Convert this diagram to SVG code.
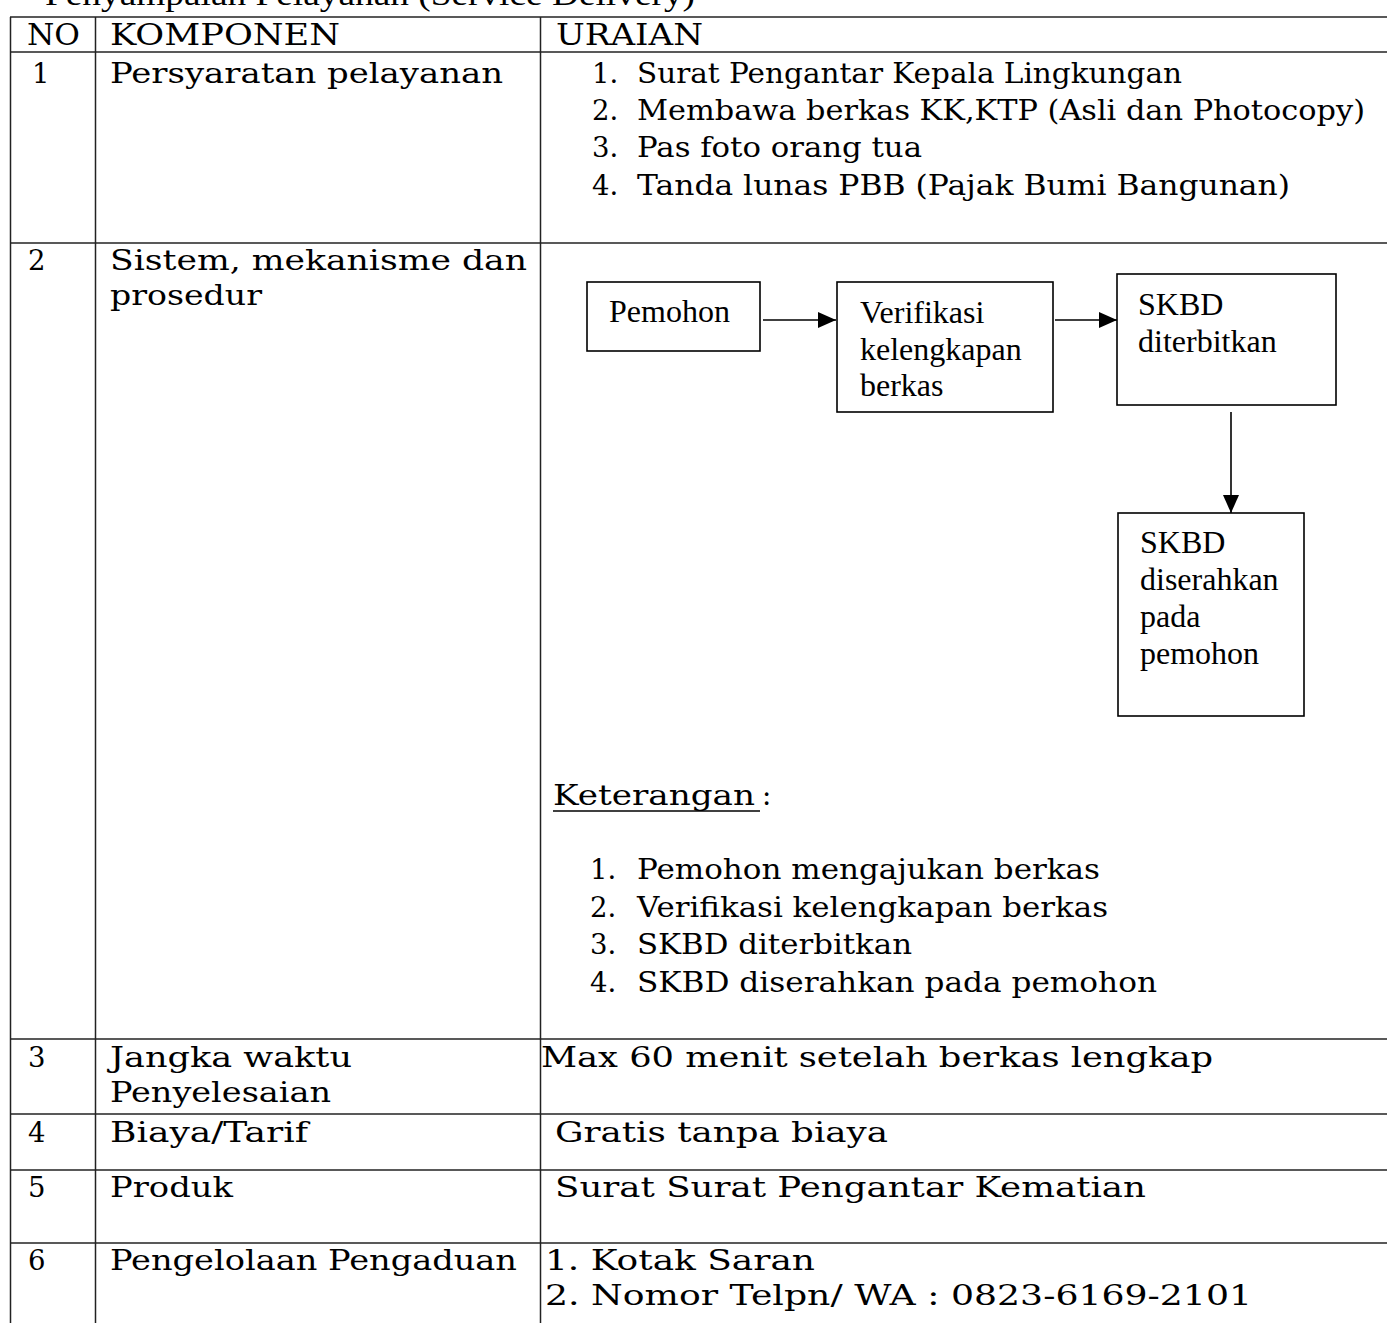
<svg xmlns="http://www.w3.org/2000/svg" width="1387" height="1323" viewBox="0 0 1387 1323">
<style>
.grid{stroke:#222;stroke-width:1.5;fill:none}
.t{font-family:"DejaVu Serif","Liberation Serif",serif;font-size:27.5px;fill:#000}
.h{font-family:"DejaVu Serif","Liberation Serif",serif;font-size:29px;fill:#000}
.f{font-family:"Liberation Serif","Times New Roman",serif;font-size:32px;fill:#000}
.box{fill:#fff;stroke:#000;stroke-width:1.6}
.con{stroke:#000;stroke-width:1.6;fill:none}
</style>
<defs>
<marker id="arr" markerUnits="userSpaceOnUse" markerWidth="20" markerHeight="16" refX="18" refY="8" orient="auto">
<path d="M0,0 L18,8 L0,16 z" fill="#000"/>
</marker>
</defs>
<rect width="1387" height="1323" fill="#fff"/>
<text class="f" x="45" y="5" textLength="650" lengthAdjust="spacingAndGlyphs">Penyampaian Pelayanan (Service Delivery)</text>
<g id="table" class="grid">
<line x1="10" y1="17" x2="1387" y2="17"/>
<line x1="10" y1="52" x2="1387" y2="52"/>
<line x1="10" y1="243" x2="1387" y2="243"/>
<line x1="10" y1="1039" x2="1387" y2="1039"/>
<line x1="10" y1="1114" x2="1387" y2="1114"/>
<line x1="10" y1="1170" x2="1387" y2="1170"/>
<line x1="10" y1="1243" x2="1387" y2="1243"/>
<line x1="10.5" y1="17" x2="10.5" y2="1323"/>
<line x1="95.5" y1="17" x2="95.5" y2="1323"/>
<line x1="540.5" y1="17" x2="540.5" y2="1323"/>
</g>
<g id="header">
<text class="h" x="27" y="45" textLength="53" lengthAdjust="spacingAndGlyphs">NO</text>
<text class="h" x="110" y="45" textLength="230" lengthAdjust="spacingAndGlyphs">KOMPONEN</text>
<text class="h" x="556" y="45" textLength="147" lengthAdjust="spacingAndGlyphs">URAIAN</text>
</g>
<g id="row1">
<text class="t" x="32" y="83">1</text>
<text class="t" x="110" y="83" textLength="393" lengthAdjust="spacingAndGlyphs">Persyaratan pelayanan</text>
<text class="t" x="592" y="83">1.</text>
<text class="t" x="637" y="83" textLength="545" lengthAdjust="spacingAndGlyphs">Surat Pengantar Kepala Lingkungan</text>
<text class="t" x="592" y="120">2.</text>
<text class="t" x="637" y="120" textLength="728" lengthAdjust="spacingAndGlyphs">Membawa berkas KK,KTP (Asli dan Photocopy)</text>
<text class="t" x="592" y="157">3.</text>
<text class="t" x="637" y="157" textLength="285" lengthAdjust="spacingAndGlyphs">Pas foto orang tua</text>
<text class="t" x="592" y="195">4.</text>
<text class="t" x="637" y="195" textLength="653" lengthAdjust="spacingAndGlyphs">Tanda lunas PBB (Pajak Bumi Bangunan)</text>
</g>
<g id="row2">
<text class="t" x="28" y="270">2</text>
<text class="t" x="110" y="270" textLength="417" lengthAdjust="spacingAndGlyphs">Sistem, mekanisme dan</text>
<text class="t" x="110" y="305" textLength="152" lengthAdjust="spacingAndGlyphs">prosedur</text>
</g>
<g id="connectors">
<line class="con" x1="763" y1="320" x2="836" y2="320" marker-end="url(#arr)"/>
<line class="con" x1="1055" y1="320" x2="1117" y2="320" marker-end="url(#arr)"/>
<line class="con" x1="1231" y1="412" x2="1231" y2="513" marker-end="url(#arr)"/>
</g>
<g id="node-pemohon">
<rect class="box" x="587" y="282" width="173" height="69"/>
<text class="f" x="609" y="322">Pemohon</text>
</g>
<g id="node-verifikasi">
<rect class="box" x="837" y="282" width="216" height="130"/>
<text class="f" x="860" y="323">Verifikasi</text>
<text class="f" x="860" y="360">kelengkapan</text>
<text class="f" x="860" y="396">berkas</text>
</g>
<g id="node-diterbitkan">
<rect class="box" x="1117" y="274" width="219" height="131"/>
<text class="f" x="1138" y="315">SKBD</text>
<text class="f" x="1138" y="352">diterbitkan</text>
</g>
<g id="node-diserahkan">
<rect class="box" x="1118" y="513" width="186" height="203"/>
<text class="f" x="1140" y="553">SKBD</text>
<text class="f" x="1140" y="590">diserahkan</text>
<text class="f" x="1140" y="627">pada</text>
<text class="f" x="1140" y="664">pemohon</text>
</g>
<g id="keterangan">
<text class="t" x="553" y="805" textLength="202" lengthAdjust="spacingAndGlyphs">Keterangan</text>
<text class="t" x="762" y="805">:</text>
<line x1="553" y1="811" x2="760" y2="811" stroke="#000" stroke-width="1.5"/>
<text class="t" x="590" y="879">1.</text>
<text class="t" x="637" y="879" textLength="463" lengthAdjust="spacingAndGlyphs">Pemohon mengajukan berkas</text>
<text class="t" x="590" y="917">2.</text>
<text class="t" x="637" y="917" textLength="471" lengthAdjust="spacingAndGlyphs">Verifikasi kelengkapan berkas</text>
<text class="t" x="590" y="954">3.</text>
<text class="t" x="637" y="954" textLength="275" lengthAdjust="spacingAndGlyphs">SKBD diterbitkan</text>
<text class="t" x="590" y="992">4.</text>
<text class="t" x="637" y="992" textLength="520" lengthAdjust="spacingAndGlyphs">SKBD diserahkan pada pemohon</text>
</g>
<g id="row3">
<text class="t" x="28" y="1067">3</text>
<text class="t" x="110" y="1067" textLength="242" lengthAdjust="spacingAndGlyphs">Jangka waktu</text>
<text class="t" x="110" y="1102" textLength="221" lengthAdjust="spacingAndGlyphs">Penyelesaian</text>
<text class="t" x="541" y="1067" textLength="672" lengthAdjust="spacingAndGlyphs">Max 60 menit setelah berkas lengkap</text>
</g>
<g id="row4">
<text class="t" x="28" y="1142">4</text>
<text class="t" x="110" y="1142" textLength="198" lengthAdjust="spacingAndGlyphs">Biaya/Tarif</text>
<text class="t" x="555" y="1142" textLength="333" lengthAdjust="spacingAndGlyphs">Gratis tanpa biaya</text>
</g>
<g id="row5">
<text class="t" x="28" y="1197">5</text>
<text class="t" x="110" y="1197" textLength="123" lengthAdjust="spacingAndGlyphs">Produk</text>
<text class="t" x="555" y="1197" textLength="591" lengthAdjust="spacingAndGlyphs">Surat Surat Pengantar Kematian</text>
</g>
<g id="row6">
<text class="t" x="28" y="1270">6</text>
<text class="t" x="110" y="1270" textLength="407" lengthAdjust="spacingAndGlyphs">Pengelolaan Pengaduan</text>
<text class="t" x="545" y="1270" textLength="270" lengthAdjust="spacingAndGlyphs">1. Kotak Saran</text>
<text class="t" x="545" y="1305" textLength="707" lengthAdjust="spacingAndGlyphs">2. Nomor Telpn/ WA : 0823-6169-2101</text>
</g>
</svg>
